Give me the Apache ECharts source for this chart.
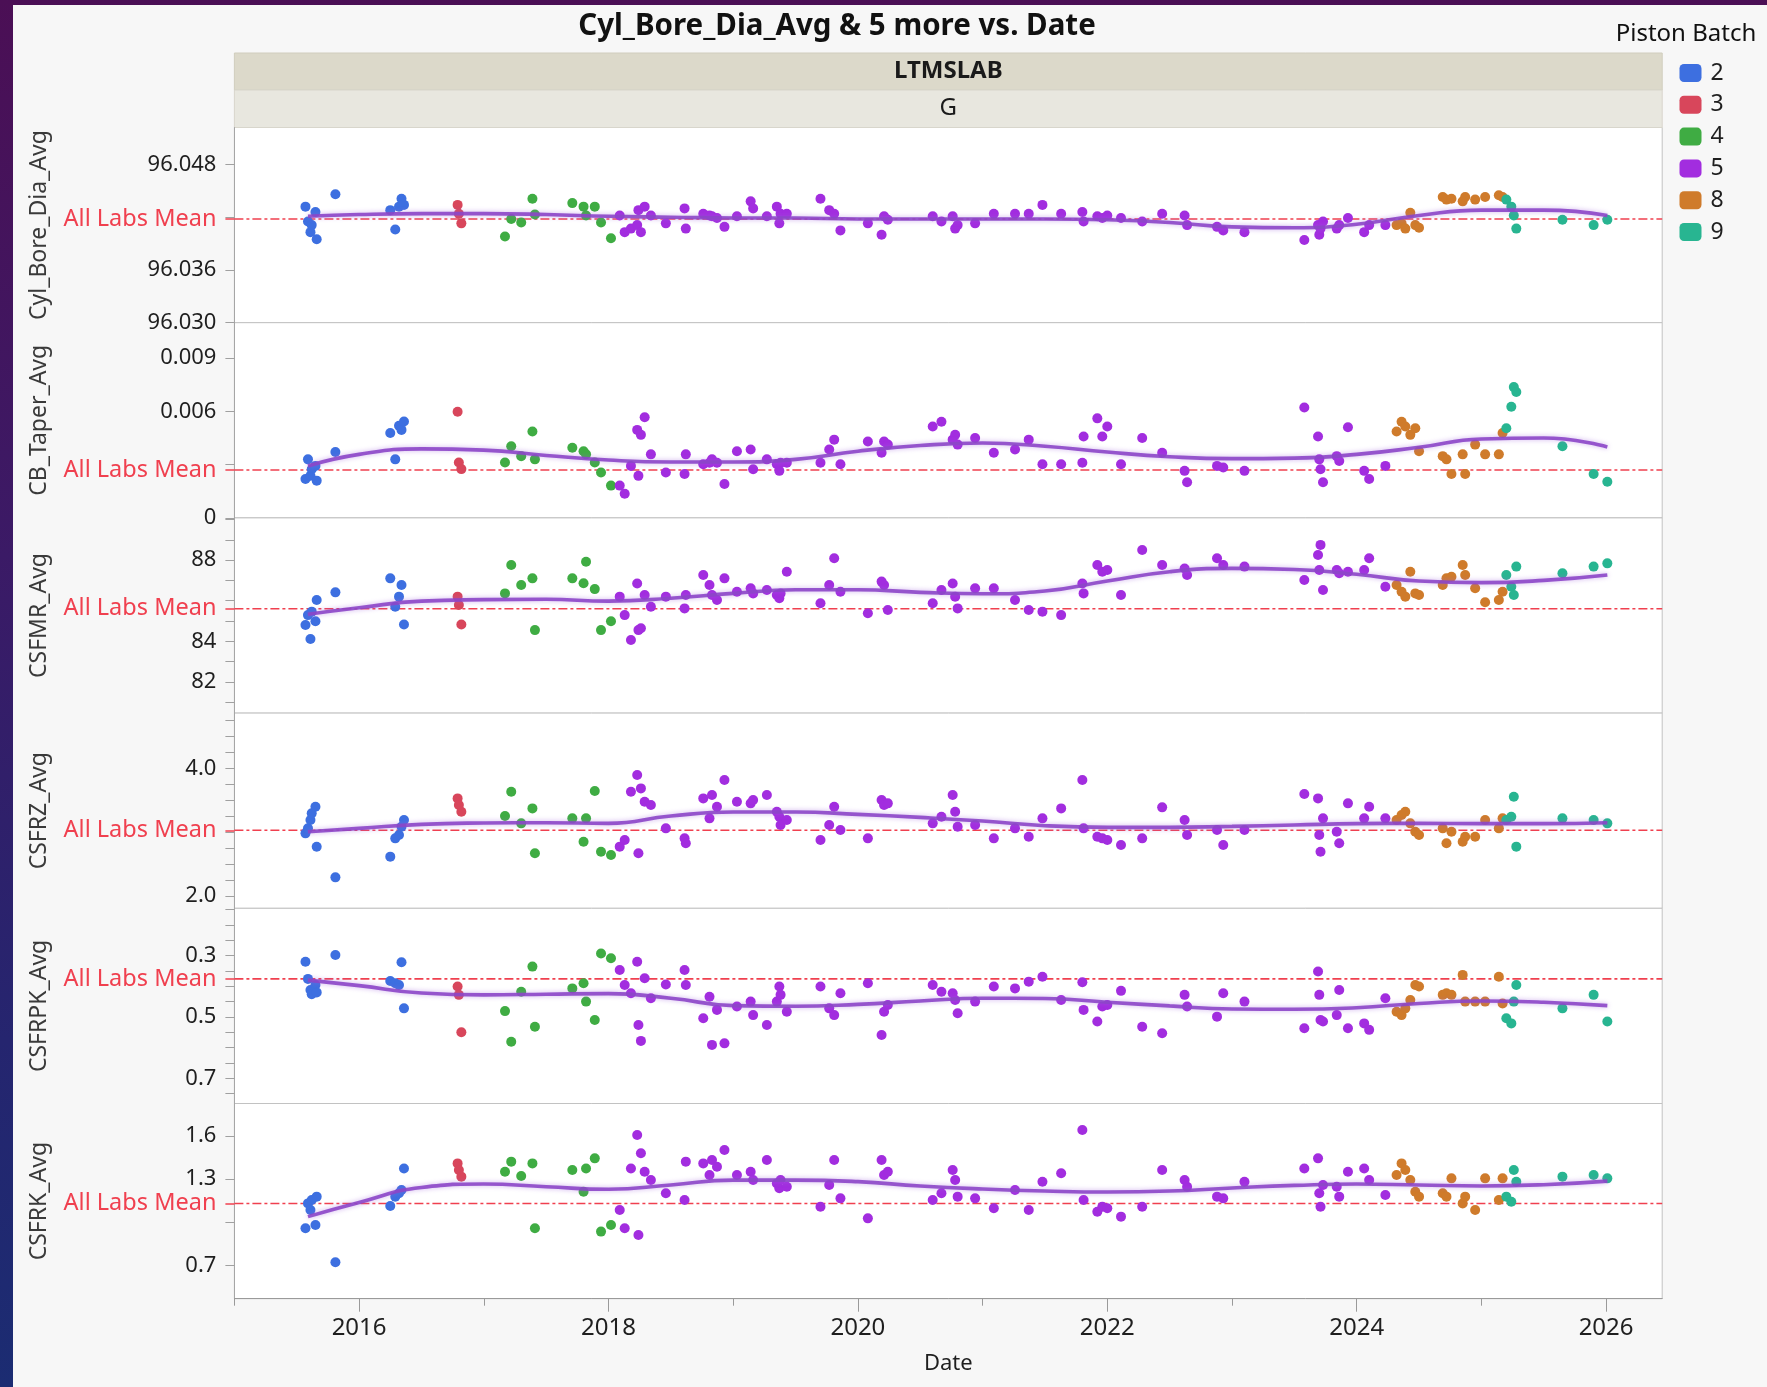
<!DOCTYPE html>
<html><head><meta charset="utf-8">
<script src="https://cdn.jsdelivr.net/npm/echarts@6/dist/echarts.min.js"></script>
<style>
html,body{margin:0;padding:0;width:1767px;height:1387px;overflow:hidden;
background:linear-gradient(180deg,#4b0f55 0%,#3b1a66 40%,#25256f 75%,#1b2c72 100%);}
#c{position:absolute;left:13px;top:5px;width:1754px;height:1382px;}
</style></head><body><div id="c"></div><script>
// ---------- DATA ----------
const batches = ['2','3','4','5','8','9'];
const panelNames = ['Cyl_Bore_Dia_Avg','CB_Taper_Avg','CSFMR_Avg','CSFRZ_Avg','CSFRPK_Avg','CSFRK_Avg'];

const testDate = [
 2015.57,2015.59,2015.61,2015.62,2015.65,2015.66,2015.81,2016.25,2016.29,2016.32,2016.34,2016.36,
 2016.79,2016.80,2016.82,
 2017.17,2017.22,2017.30,2017.39,2017.41,2017.71,2017.80,2017.82,2017.89,2017.94,2018.02,
 2018.09,2018.13,2018.18,2018.23,2018.24,2018.26,2018.29,2018.34,2018.46,2018.61,2018.62,2018.76,2018.81,2018.83,2018.87,2018.93,
 2019.03,2019.14,2019.16,2019.27,2019.35,2019.37,2019.38,2019.43,2019.70,2019.77,2019.81,2019.86,
 2020.08,2020.19,2020.21,2020.24,2020.60,2020.67,2020.76,2020.78,2020.80,2020.94,
 2021.09,2021.26,2021.37,2021.48,2021.63,2021.80,2021.81,2021.92,2021.96,2022.00,
 2022.11,2022.28,2022.44,2022.62,2022.64,2022.88,2022.93,2023.10,
 2023.58,2023.69,2023.70,2023.71,2023.73,2023.84,2023.86,2023.93,2024.06,2024.10,2024.23,
 2024.32,2024.36,2024.39,2024.43,2024.47,2024.50,2024.69,2024.72,2024.76,2024.85,2024.87,2024.95,2025.03,2025.14,2025.17,
 2025.20,2025.24,2025.26,2025.28,2025.65,2025.90,2026.01
];
const testBatch = [
 2,2,2,2,2,2,2,2,2,2,2,2,
 3,3,3,
 4,4,4,4,4,4,4,4,4,4,4,
 5,5,5,5,5,5,5,5,5,5,5,5,5,5,5,5,
 5,5,5,5,5,5,5,5,5,5,5,5,
 5,5,5,5,5,5,5,5,5,5,
 5,5,5,5,5,5,5,5,5,5,
 5,5,5,5,5,5,5,5,
 5,5,5,5,5,5,5,5,5,5,5,
 8,8,8,8,8,8,8,8,8,8,8,8,8,8,8,
 9,9,9,9,9,9,9
];
const cylBoreDiaAvg = [
 96.0432,96.0415,96.0403,96.0411,96.0426,96.0395,96.0446,96.0428,96.0406,96.0432,96.0441,96.0434,
 96.0434,96.0424,96.0413,
 96.0398,96.0418,96.0414,96.0441,96.0423,96.0436,96.0432,96.0422,96.0432,96.0414,96.0396,
 96.0422,96.0403,96.0407,96.0411,96.0428,96.0403,96.0432,96.0422,96.0413,96.0430,96.0407,96.0424,96.0422,96.0421,96.0419,96.0409,
 96.0421,96.0438,96.0430,96.0421,96.0432,96.0413,96.0424,96.0424,96.0441,96.0428,96.0424,96.0405,
 96.0413,96.0400,96.0421,96.0417,96.0421,96.0415,96.0421,96.0407,96.0411,96.0413,
 96.0424,96.0424,96.0424,96.0434,96.0424,96.0426,96.0415,96.0421,96.0419,96.0422,
 96.0419,96.0415,96.0424,96.0422,96.0411,96.0409,96.0405,96.0403,
 96.0394,96.0411,96.0400,96.0407,96.0415,96.0407,96.0411,96.0419,96.0403,96.0411,96.0411,
 96.0411,96.0413,96.0407,96.0425,96.0411,96.0408,96.0443,96.0440,96.0441,96.0438,96.0443,96.0440,96.0443,96.0445,96.0443,
 96.0440,96.0432,96.0422,96.0407,96.0417,96.0411,96.0417
];
const cbTaperAvg = [
 0.00219,0.00330,0.00238,0.00274,0.00293,0.00210,0.00371,0.00478,0.00330,0.00519,0.00496,0.00543,
 0.00598,0.00312,0.00275,
 0.00312,0.00404,0.00348,0.00487,0.00330,0.00395,0.00376,0.00358,0.00312,0.00256,0.00182,
 0.00182,0.00136,0.00293,0.00496,0.00237,0.00468,0.00567,0.00358,0.00256,0.00247,0.00358,0.00302,0.00311,0.00330,0.00311,0.00191,
 0.00376,0.00385,0.00274,0.00330,0.00302,0.00265,0.00311,0.00311,0.00311,0.00385,0.00441,0.00302,
 0.00431,0.00367,0.00431,0.00413,0.00515,0.00542,0.00441,0.00468,0.00413,0.00450,
 0.00367,0.00385,0.00441,0.00302,0.00302,0.00311,0.00459,0.00561,0.00459,0.00515,
 0.00302,0.00450,0.00367,0.00265,0.00201,0.00293,0.00284,0.00265,
 0.00622,0.00459,0.00330,0.00274,0.00201,0.00348,0.00321,0.00511,0.00265,0.00219,0.00293,
 0.00487,0.00542,0.00515,0.00468,0.00505,0.00376,0.00348,0.00330,0.00247,0.00358,0.00247,0.00413,0.00358,0.00358,0.00478,
 0.00505,0.00626,0.00737,0.00709,0.00404,0.00247,0.00204
];
const csfmrAvg = [
 84.80,85.29,84.11,85.46,84.99,86.03,86.41,87.10,85.70,86.20,86.77,84.83,
 86.20,85.79,84.83,
 86.36,87.76,86.77,87.10,84.55,87.10,86.86,87.92,86.57,84.55,84.99,
 86.20,85.29,84.06,86.85,84.55,84.64,86.28,85.70,86.20,85.62,86.28,87.27,86.77,86.28,86.03,87.10,
 86.44,86.61,86.36,86.53,86.28,86.12,86.36,87.43,85.87,86.77,88.09,86.44,
 85.38,86.94,86.77,85.54,85.87,86.53,86.85,86.20,85.62,86.61,
 86.61,86.03,85.54,85.46,85.29,86.85,86.36,87.76,87.43,87.51,
 86.28,88.50,87.76,87.59,87.27,88.09,87.76,87.68,
 87.02,88.25,87.51,88.75,86.53,87.51,87.35,87.43,87.51,88.09,86.69,
 86.77,86.44,86.20,87.43,86.36,86.28,86.77,87.10,87.18,87.76,87.27,86.61,85.92,86.03,86.44,
 87.27,86.69,86.28,87.68,87.35,87.68,87.84
];
const csfrzAvg = [
 2.982,3.060,3.191,3.296,3.400,2.772,2.291,2.616,2.903,2.956,3.086,3.191,
 3.531,3.427,3.322,
 3.254,3.636,3.139,3.374,2.668,3.217,2.851,3.217,3.646,2.694,2.642,
 2.773,2.877,3.636,3.898,2.668,3.688,3.479,3.427,3.060,2.903,2.825,3.531,3.217,3.584,3.400,3.819,
 3.479,3.453,3.505,3.584,3.322,3.243,3.113,3.191,2.877,3.113,3.400,3.034,
 2.903,3.505,3.427,3.453,3.139,3.243,3.584,3.322,3.086,3.113,
 2.903,3.060,2.929,3.217,3.374,3.819,3.060,2.929,2.903,2.877,
 2.799,2.903,3.390,3.191,2.956,3.034,2.799,3.034,
 3.599,3.531,2.956,2.694,3.217,3.008,2.825,3.453,3.217,3.400,3.217,
 3.191,3.270,3.322,3.139,3.008,2.956,3.060,2.825,3.008,2.851,2.929,2.929,3.191,3.060,3.217,
 3.191,3.243,3.557,2.773,3.217,3.191,3.139
];
const csfrpkAvg = [
 0.320,0.376,0.412,0.426,0.396,0.420,0.298,0.383,0.390,0.396,0.322,0.472,
 0.401,0.428,0.550,
 0.481,0.581,0.418,0.336,0.532,0.407,0.390,0.450,0.510,0.293,0.309,
 0.347,0.396,0.423,0.320,0.526,0.578,0.374,0.439,0.394,0.347,0.396,0.504,0.434,0.591,0.477,0.586,
 0.466,0.450,0.494,0.526,0.450,0.401,0.428,0.483,0.401,0.472,0.494,0.423,
 0.390,0.559,0.483,0.461,0.396,0.418,0.423,0.445,0.488,0.450,
 0.401,0.407,0.385,0.369,0.445,0.387,0.477,0.515,0.466,0.461,
 0.415,0.532,0.553,0.428,0.466,0.499,0.423,0.450,
 0.537,0.352,0.428,0.510,0.515,0.494,0.412,0.537,0.521,0.542,0.439,
 0.483,0.494,0.472,0.445,0.396,0.401,0.428,0.423,0.428,0.363,0.450,0.450,0.450,0.369,0.456,
 0.504,0.521,0.450,0.396,0.472,0.428,0.515
];
const csfrkAvg = [
 0.958,1.131,1.085,1.155,0.981,1.178,0.722,1.113,1.178,1.201,1.224,1.374,
 1.409,1.363,1.317,
 1.351,1.421,1.321,1.409,0.958,1.363,1.212,1.374,1.444,0.935,0.981,
 1.085,0.958,1.374,1.606,0.911,1.479,1.351,1.293,1.201,1.155,1.421,1.409,1.328,1.432,1.386,1.502,
 1.328,1.351,1.293,1.432,1.270,1.236,1.293,1.247,1.108,1.259,1.432,1.166,
 1.027,1.432,1.328,1.351,1.155,1.201,1.363,1.293,1.178,1.166,
 1.097,1.224,1.085,1.282,1.340,1.641,1.155,1.073,1.108,1.097,
 1.039,1.108,1.363,1.293,1.247,1.178,1.166,1.282,
 1.374,1.444,1.201,1.108,1.259,1.247,1.178,1.351,1.374,1.293,1.189,
 1.328,1.409,1.363,1.293,1.212,1.178,1.201,1.178,1.305,1.131,1.178,1.085,1.305,1.155,1.305,
 1.178,1.143,1.363,1.282,1.317,1.328,1.305
];

// smoother curves
const smoothX = [2015.59,2016.0,2016.5,2017.0,2017.5,2018.0,2018.5,2019.0,2019.5,2020.0,2020.5,2021.0,2021.5,2022.0,2022.5,2023.0,2023.5,2024.0,2024.5,2025.0,2025.5,2026.01];
const smoothCyl = [96.0421,96.0423,96.0424,96.0424,96.0423,96.0421,96.0420,96.0419,96.0419,96.0418,96.0418,96.0418,96.0418,96.0417,96.0414,96.0409,96.0408,96.0412,96.0422,96.0428,96.0428,96.0422];
const smoothTaper = [0.00293,0.00358,0.00389,0.00382,0.00352,0.00326,0.00315,0.00315,0.00330,0.00376,0.00408,0.00422,0.00404,0.00371,0.00345,0.00334,0.00337,0.00358,0.00398,0.00445,0.00450,0.00400];
const smoothMR = [85.33,85.65,85.98,86.05,86.07,85.98,86.12,86.36,86.54,86.54,86.41,86.34,86.48,86.97,87.43,87.59,87.54,87.30,86.97,86.89,87.00,87.27];
const smoothRZ = [3.008,3.060,3.123,3.144,3.149,3.139,3.254,3.317,3.317,3.280,3.233,3.175,3.102,3.076,3.076,3.092,3.113,3.134,3.139,3.134,3.134,3.149];
const smoothRPK = [0.380,0.398,0.422,0.428,0.426,0.424,0.439,0.463,0.465,0.459,0.448,0.439,0.440,0.452,0.464,0.474,0.475,0.470,0.456,0.448,0.452,0.463];
const smoothRK = [1.039,1.138,1.242,1.266,1.247,1.229,1.259,1.293,1.293,1.282,1.252,1.231,1.217,1.210,1.217,1.238,1.256,1.266,1.259,1.252,1.261,1.286];

const labMeans = [96.0418,0.0027,85.6,3.03,0.376,1.13];

// axes
const xMin = 2015, xMax = 2026.45;
const xMajorTicks = [2016,2018,2020,2022,2024,2026];
const xMinorTicks = [2015,2017,2019,2021,2023,2025];
const yMin = [96.0300,0,80.46,1.805,0.146,0.469];
const yMax = [96.0522,0.0110,90.08,4.870,0.782,1.825];
const yTicks = [
 [96.030,96.036,96.042,96.048],
 [0,0.003,0.006,0.009],
 [81,82,83,84,85,86,87,88,89,90],
 [2,2.25,2.5,2.75,3,3.25,3.5,3.75,4,4.25,4.5,4.75],
 [0.15,0.2,0.25,0.3,0.35,0.4,0.45,0.5,0.55,0.6,0.65,0.7,0.75],
 [0.7,1.0,1.3,1.6]
];
const yLabels = [
 [96.030,96.036,96.048],
 [0,0.006,0.009],
 [82,84,88],
 [2.0,4.0],
 [0.3,0.5,0.7],
 [0.7,1.3,1.6]
];
const yDecimals = [3,3,0,1,1,1];
const yInverse = [false,false,false,false,true,false];

// ---------- STYLE / LAYOUT ----------
const batchColors = ['#3d6fe0','#d8465b','#3fac43','#a22ddf','#cf7b2b','#28b591'];
const FONT = "'Noto Sans','DejaVu Sans',sans-serif";
const OX = 13, OY = 5;
const plotLeft = 234.4 - OX;
const plotW = 1662.2 - 234.4;
const plotRight = 1754 - (plotLeft + plotW);
const panelTop0 = 127.5 - OY, panelH = 195.2;

const valueSets = [cylBoreDiaAvg, cbTaperAvg, csfmrAvg, csfrzAvg, csfrpkAvg, csfrkAvg];
const smoothSets = [smoothCyl, smoothTaper, smoothMR, smoothRZ, smoothRPK, smoothRK];

const grids = [], xAxes = [], yAxes = [], series = [];
for (let p = 0; p < 6; p++) {
  grids.push({left: plotLeft, right: plotRight, top: panelTop0 + p * panelH, height: panelH,
    show: true, backgroundColor: '#ffffff', borderColor: '#c2c2c2', borderWidth: 1,
    containLabel: false, outerBoundsMode: 'none'});
  const isBottom = p === 5;
  xAxes.push({
    gridIndex: p, type: 'value', min: xMin, max: xMax, position: 'bottom',
    axisLine: {show: isBottom, onZero: false, lineStyle: {color: '#9a9a9a', width: 1}},
    axisTick: {show: isBottom, customValues: xMajorTicks, length: 13, lineStyle: {color: '#9a9a9a'}},
    axisLabel: {show: isBottom, customValues: xMajorTicks, formatter: v => String(Math.round(v)),
      fontSize: 24, color: '#1f1f1f', margin: 17, fontFamily: FONT},
    splitLine: {show: false},
    name: isBottom ? 'Date' : '', nameLocation: 'middle', nameGap: 54,
    nameTextStyle: {fontSize: 22, color: '#1f1f1f', fontFamily: FONT}
  });
  const dec = yDecimals[p];
  yAxes.push({
    gridIndex: p, type: 'value', min: yMin[p], max: yMax[p], inverse: yInverse[p], position: 'left',
    axisLine: {show: true, onZero: false, lineStyle: {color: '#a6a6a6'}},
    axisTick: {show: true, customValues: yTicks[p], length: 9, lineStyle: {color: '#a0a0a0'}},
    axisLabel: {customValues: yLabels[p], margin: 18, fontSize: 22, color: '#1f1f1f', fontFamily: FONT,
      formatter: v => (v === 0 ? '0' : v.toFixed(dec))},
    splitLine: {show: false},
    name: panelNames[p], nameLocation: 'middle', nameGap: 183, nameRotate: 90,
    nameTextStyle: {fontSize: 23, color: '#3a3a3a', fontFamily: FONT}
  });
  yAxes.push({
    gridIndex: p, type: 'value', min: yMin[p], max: yMax[p], inverse: yInverse[p], position: 'left',
    axisLine: {show: false},
    axisTick: {show: true, customValues: [labMeans[p]], length: 9, lineStyle: {color: '#f0404f', width: 1.5}},
    axisLabel: {customValues: [labMeans[p]], margin: 18, fontSize: 23.5, color: '#f0404f', fontFamily: FONT,
      formatter: () => 'All Labs Mean'},
    splitLine: {show: false}
  });
}
// minor (odd-year) ticks on the bottom date axis
xAxes.push({
  gridIndex: 5, type: 'value', min: xMin, max: xMax, position: 'bottom',
  axisLine: {show: false}, axisLabel: {show: false}, splitLine: {show: false},
  axisTick: {show: true, customValues: xMinorTicks, length: 7, lineStyle: {color: '#9a9a9a'}}
});

for (let p = 0; p < 6; p++) {
  series.push({
    type: 'line', xAxisIndex: p, yAxisIndex: 2 * p, silent: true, symbol: 'none', z: 1,
    data: [[xMin, labMeans[p]], [xMax, labMeans[p]]],
    lineStyle: {color: '#f0404f', width: 1.6, type: [9, 3, 3, 3]}
  });
  batches.forEach((b, bi) => {
    const pts = [];
    testDate.forEach((d, i) => { if (String(testBatch[i]) === b) pts.push([d, valueSets[p][i]]); });
    series.push({
      type: 'scatter', name: b, xAxisIndex: p, yAxisIndex: 2 * p, z: 3,
      symbol: 'circle', symbolSize: 10, data: pts,
      itemStyle: {color: batchColors[bi], opacity: 1}
    });
  });
  series.push({
    type: 'line', xAxisIndex: p, yAxisIndex: 2 * p, silent: true, symbol: 'none', smooth: 0.5, z: 5,
    data: smoothX.map((x, i) => [x, smoothSets[p][i]]),
    lineStyle: {color: 'rgba(140,70,200,0.9)', width: 3.6, shadowColor: 'rgba(160,100,220,0.55)', shadowBlur: 5}
  });
}

const bandX = plotLeft, bandW = plotW;
const option = {
  backgroundColor: '#f7f7f7',
  animation: false,
  textStyle: {fontFamily: FONT},
  grid: grids, xAxis: xAxes, yAxis: yAxes, series: series,
  legend: {
    orient: 'vertical', left: 1661.5, top: 51.5, itemWidth: 22, itemHeight: 18, itemGap: 8.8,
    icon: 'roundRect', selectedMode: false, data: batches,
    textStyle: {fontSize: 23, color: '#1f1f1f', lineHeight: 18, fontFamily: FONT, padding: [0, 0, 0, 4]}
  },
  graphic: [
    {type: 'text', x: 824, y: 22, style: {text: 'Cyl_Bore_Dia_Avg & 5 more vs. Date', align: 'center',
      verticalAlign: 'middle', font: "bold 29.5px 'Noto Sans'", fill: '#111'}},
    {type: 'text', x: 1673, y: 29, style: {text: 'Piston Batch', align: 'center', verticalAlign: 'middle',
      font: "24px 'Noto Sans'", fill: '#111'}},
    {type: 'rect', shape: {x: bandX, y: 53 - OY, width: bandW, height: 37}, style: {fill: '#dcd9ca', stroke: '#d0cdbd', lineWidth: 1}},
    {type: 'rect', shape: {x: bandX, y: 90 - OY, width: bandW, height: 37.5}, style: {fill: '#e8e7df', stroke: '#d8d6cc', lineWidth: 1}},
    {type: 'text', x: bandX + bandW / 2, y: 71.5 - OY, style: {text: 'LTMSLAB', align: 'center', verticalAlign: 'middle',
      font: "bold 24px 'Noto Sans'", fill: '#1a1a1a'}},
    {type: 'text', x: bandX + bandW / 2, y: 108.5 - OY, style: {text: 'G', align: 'center', verticalAlign: 'middle',
      font: "24px 'Noto Sans'", fill: '#1a1a1a'}}
  ]
};
const chart = echarts.init(document.getElementById('c'), null, {renderer: 'canvas'});
chart.setOption(option);
</script></body></html>
